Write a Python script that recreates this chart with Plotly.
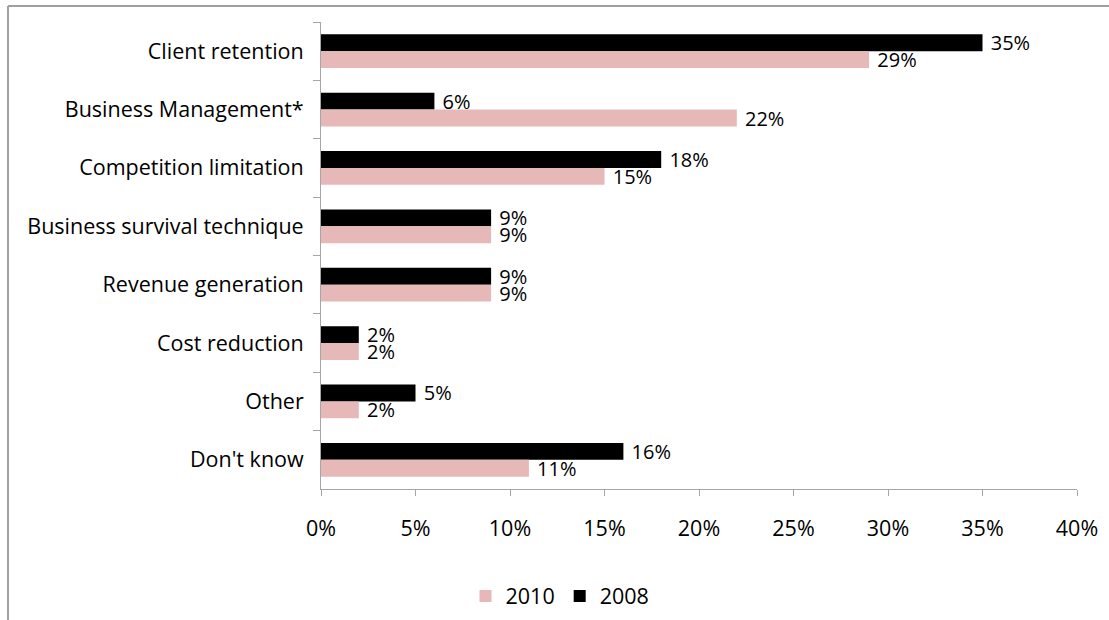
import plotly.graph_objects as go

categories = [
    "Client retention",
    "Business Management*",
    "Competition limitation",
    "Business survival technique",
    "Revenue generation",
    "Cost reduction",
    "Other",
    "Don't know",
]
values_2008 = [35, 6, 18, 9, 9, 2, 5, 16]
values_2010 = [29, 22, 15, 9, 9, 2, 2, 11]
x_ticks = [0, 5, 10, 15, 20, 25, 30, 35, 40]

FONT = "Open Sans"
FS = 21.5
LABEL_FS = 20
W, H = 1109, 620
L, R, T, B = 321, 32, 22, 131
pw, ph = W - L - R, H - T - B


def px_x(p):
    return (p - L) / pw


def px_y(p):
    return (H - B - p) / ph


fig = go.Figure()
fig.add_trace(go.Bar(
    name="2008", y=categories, x=values_2008, orientation="h",
    marker=dict(color="#000000", line=dict(width=0)),
    text=[f" {v}%" for v in values_2008], textposition="outside",
    constraintext="none",
    textfont=dict(family=FONT, size=LABEL_FS, color="#000000"),
    cliponaxis=False, legendrank=2,
))
fig.add_trace(go.Bar(
    name="2010", y=categories, x=values_2010, orientation="h",
    marker=dict(color="#E6B9B8", line=dict(width=0)),
    text=[f" {v}%" for v in values_2010], textposition="outside",
    constraintext="none",
    textfont=dict(family=FONT, size=LABEL_FS, color="#000000"),
    cliponaxis=False, legendrank=1,
))

fig.update_layout(
    width=W, height=H,
    margin=dict(l=L, r=R, t=T, b=B, autoexpand=False),
    paper_bgcolor="white", plot_bgcolor="white",
    barmode="group", bargap=0.42, bargroupgap=0,
    font=dict(family=FONT, size=FS, color="#000000"),
    showlegend=True,
    legend=dict(
        orientation="h", x=px_x(560), xanchor="center",
        y=px_y(596), yanchor="middle",
        font=dict(family=FONT, size=FS), itemwidth=30,
        bgcolor="rgba(0,0,0,0)",
    ),
)
fig.update_xaxes(
    range=[0, 40], tickvals=x_ticks, ticktext=[f"{v}%" for v in x_ticks],
    showgrid=False, zeroline=False,
    showline=True, linecolor="#A6A6A6", linewidth=1,
    ticks="outside", ticklen=6, tickcolor="#A6A6A6",
    ticklabelstandoff=14,
    fixedrange=True,
)
fig.update_yaxes(
    autorange="reversed", showgrid=False, zeroline=False,
    showline=True, linecolor="#A6A6A6", linewidth=1,
    ticks="outside", ticklen=7, tickcolor="#A6A6A6",
    tickson="boundaries", ticklabelstandoff=12,
    fixedrange=True,
)

# Outer chart frame (top and left edges)
frame = dict(type="line", xref="paper", yref="paper",
             line=dict(color="#A0A0A0", width=2))
fig.add_shape(**frame, x0=px_x(8), x1=px_x(1109), y0=px_y(6), y1=px_y(6))
fig.add_shape(**frame, x0=px_x(8), x1=px_x(8), y0=px_y(6), y1=px_y(620))

fig.write_html("out.html")
